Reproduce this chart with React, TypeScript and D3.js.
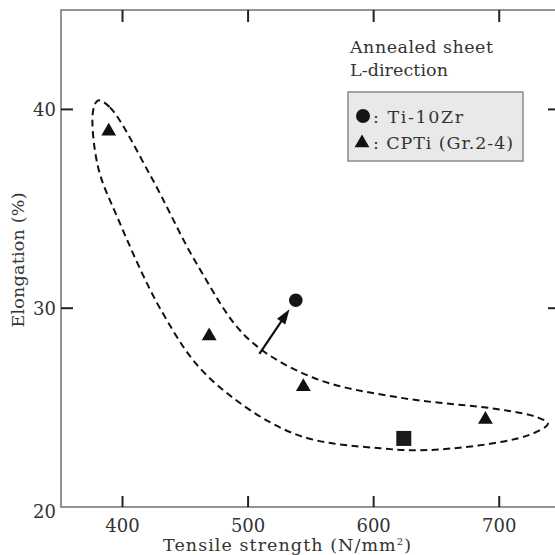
import React from 'react';
import * as d3 from 'd3';

// readings from the figure
const xTicks = [400, 500, 600, 700];
const yTicks = [30, 40];
const yLabels = [20, 30, 40];

const cpTiStrength = [389, 469, 544, 689];
const cpTiElong = [38.9, 28.6, 26.05, 24.4];

const tiZrStrength = [538];
const tiZrElong = [30.4];

const squareStrength = [624];
const squareElong = [23.45];

// arrow from the enclosed region toward Ti-10Zr
const arrowFrom = [509, 27.7];
const arrowTo = [533, 29.95];

// outline of the dashed envelope
const loopStrength = [380.5, 390, 422, 460.3, 499.4, 552.1, 621, 701.3, 730.9, 738.8, 722.9, 653.5, 605.5, 536.1, 467.5, 431.6, 395.7, 380.5, 376.5];
const loopElong = [40.45, 40.1, 36.7, 32.1, 28.5, 26.5, 25.5, 24.9, 24.5, 24.2, 23.6, 22.9, 22.95, 23.7, 26.6, 29.8, 34.6, 37.1, 39.9];

const font = '"DejaVu Serif", serif';

export default function App() {
    const x = d3.scaleLinear().domain([351, 750]).range([61, 562]);
    const y = d3.scaleLinear().domain([20, 45]).range([507, 10]);

    const loop = d3
        .line<number>()
        .x((d, i) => x(loopStrength[i]))
        .y((d, i) => y(loopElong[i]))
        .curve(d3.curveCatmullRomClosed.alpha(0.5));

    const tri = d3.symbol().type(d3.symbolTriangle).size(95);
    const sq = d3.symbol().type(d3.symbolSquare).size(225);

    const ax0 = x(arrowFrom[0]);
    const ay0 = y(arrowFrom[1]);
    const ax1 = x(arrowTo[0]);
    const ay1 = y(arrowTo[1]);
    const rad = Math.atan2(ay1 - ay0, ax1 - ax0);
    const ang = (rad * 180) / Math.PI;

    return (
        <svg
            width={555}
            height={555}
            style={{ position: 'absolute', left: 0, top: 0, background: '#fff' }}
        >
            {/* frame */}
            <rect x={61} y={10} width={501} height={497} fill="none" stroke="#7a7a7a" strokeWidth={1.6} />

            {xTicks.map((t) => (
                <g key={'x' + t}>
                    <line x1={x(t)} x2={x(t)} y1={507} y2={496} stroke="#222" strokeWidth={2} />
                    <line x1={x(t)} x2={x(t)} y1={10} y2={22} stroke="#222" strokeWidth={2} />
                    <text x={x(t)} y={532} textAnchor="middle" fontFamily={font} fontSize={18} fill="#333">
                        {t}
                    </text>
                </g>
            ))}
            {yTicks.map((t) => (
                <g key={'y' + t}>
                    <line x1={61} x2={73} y1={y(t)} y2={y(t)} stroke="#222" strokeWidth={2} />
                    <line x1={548} x2={562} y1={y(t)} y2={y(t)} stroke="#222" strokeWidth={2} />
                </g>
            ))}
            {yLabels.map((t) => (
                <text
                    key={'yl' + t}
                    x={56}
                    y={y(t) + (t === 20 ? 5 : 0)}
                    dy="0.36em"
                    textAnchor="end"
                    fontFamily={font}
                    fontSize={18}
                    fill="#333"
                >
                    {t}
                </text>
            ))}

            {/* axis titles */}
            <text x={287} y={551} textAnchor="middle" fontFamily={font} fontSize={17.5} fill="#333" textLength={248} lengthAdjust="spacing">
                Tensile strength (N/mm<tspan dy={-6} fontSize={10}>2</tspan>
                <tspan dy={6}>)</tspan>
            </text>
            <text
                transform="translate(24,260) rotate(-90)"
                textAnchor="middle"
                fontFamily={font}
                fontSize={17.5}
                fill="#333"
                textLength={135}
                lengthAdjust="spacing"
            >
                Elongation (%)
            </text>

            {/* envelope */}
            <path
                d={loop(loopStrength) || ''}
                fill="none"
                stroke="#111"
                strokeWidth={2}
                strokeDasharray="7 4.5"
            />

            {/* arrow */}
            <line x1={ax0} y1={ay0} x2={ax1 - 9 * Math.cos(rad)} y2={ay1 - 9 * Math.sin(rad)} stroke="#111" strokeWidth={2.2} />
            <path d="M0,0 L-15,-5 L-15,5 Z" fill="#111" transform={`translate(${ax1},${ay1}) rotate(${ang})`} />

            {/* points */}
            {cpTiStrength.map((v, i) => (
                <path key={'t' + i} d={tri() || ''} transform={`translate(${x(v)},${y(cpTiElong[i])})`} fill="#111" />
            ))}
            {tiZrStrength.map((v, i) => (
                <circle key={'c' + i} cx={x(v)} cy={y(tiZrElong[i])} r={6.8} fill="#151515" />
            ))}
            {squareStrength.map((v, i) => (
                <path key={'s' + i} d={sq() || ''} transform={`translate(${x(v)},${y(squareElong[i])})`} fill="#1a1a1a" />
            ))}

            {/* annotation + legend */}
            <text x={350} y={53} fontFamily={font} fontSize={17.5} fill="#333" textLength={143} lengthAdjust="spacing">
                Annealed sheet
            </text>
            <text x={350} y={76} fontFamily={font} fontSize={17.5} fill="#333" textLength={98} lengthAdjust="spacing">
                L-direction
            </text>
            <rect x={348} y={92} width={175} height={69} fill="#e9e9e9" stroke="#8a8a8a" strokeWidth={1.5} />
            <circle cx={363} cy={116} r={7} fill="#151515" />
            <text x={373} y={123} fontFamily={font} fontSize={17.5} fill="#333" textLength={90} lengthAdjust="spacing">
                : Ti-10Zr
            </text>
            <path d={tri() || ''} transform="translate(362,143)" fill="#111" />
            <text x={373} y={149} fontFamily={font} fontSize={17.5} fill="#333" textLength={140} lengthAdjust="spacing">
                : CPTi (Gr.2-4)
            </text>
        </svg>
    );
}
